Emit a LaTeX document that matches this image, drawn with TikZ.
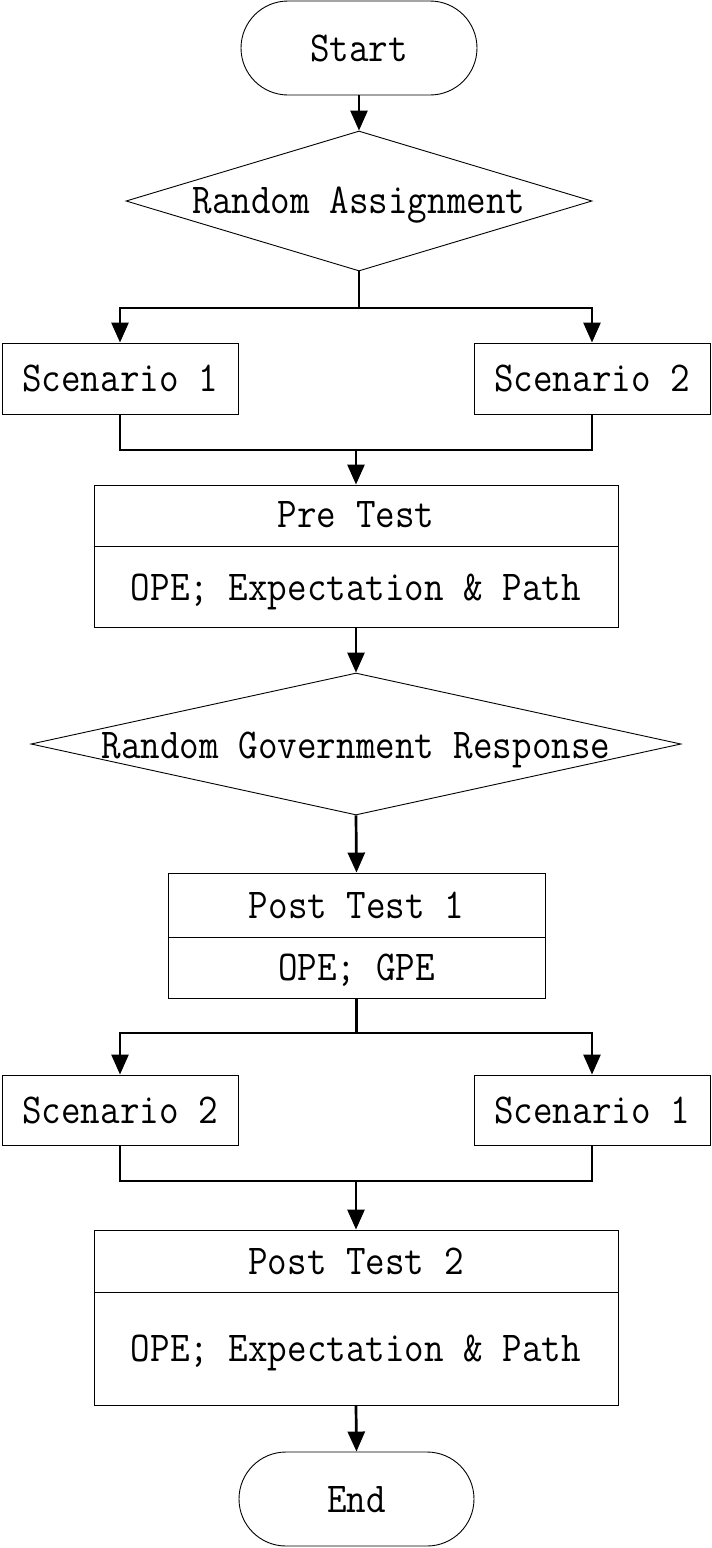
\documentclass[tikz,border=0pt]{standalone}
\usepackage{graphicx}
\usetikzlibrary{shapes.geometric,shapes.misc,arrows.meta}
\newcommand{\tallt}[1]{\scalebox{1}[1.12]{#1}}
\begin{document}
\begin{tikzpicture}[x=1pt,y=-1pt,
 lbl/.style={font=\ttfamily\fontsize{38}{40}\selectfont,inner sep=0pt,text height=26pt,text depth=0pt},
 box/.style={draw,line width=0.9pt,rectangle,inner sep=0pt,lbl},
 term/.style={draw,line width=0.9pt,rounded rectangle,inner sep=0pt,lbl},
 dec/.style={draw,line width=0.9pt,diamond,inner sep=0pt},
 divider/.style={line width=0.9pt},
 conn/.style={line width=2.7pt,-{Triangle[length=20pt,width=17pt]}},
 wire/.style={line width=2.7pt}]
\fill[white] (0,0) rectangle (712,1548);
\useasboundingbox (0,0) rectangle (712,1548);

% nodes
\node[term,minimum width=236,minimum height=94] (start) at (359,48) {\tallt{Start}};
\node[dec,minimum width=466,minimum height=140] (d1) at (359,201) {};
\node[lbl] (d1t) at (359,200) {\tallt{Random Assignment}};
\node[box,minimum width=236,minimum height=71] (s1) at (120,378.5) {\tallt{Scenario 1}};
\node[box,minimum width=236,minimum height=71] (s2) at (592,378.5) {\tallt{Scenario 2}};

\node[box,minimum width=524,minimum height=142] (pre) at (356,556) {};
\draw[divider] (pre.west |- 0,546) -- (pre.east |- 0,546);
\node[lbl] (pret) at (356,514) {\tallt{Pre Test}};
\node[lbl] (preb) at (356,587) {\tallt{OPE; Expectation \& Path}};

\node[dec,minimum width=650,minimum height=142] (d2) at (356,744) {};
\node[lbl] (d2t) at (356,745) {\tallt{Random Government Response}};

\node[box,minimum width=377,minimum height=125] (p1) at (356.5,935.5) {};
\draw[divider] (p1.west |- 0,937) -- (p1.east |- 0,937);
\node[lbl] (p1t) at (356.5,905) {\tallt{Post Test 1}};
\node[lbl] (p1b) at (356.5,967) {\tallt{OPE; GPE}};

\node[box,minimum width=236,minimum height=70] (s3) at (120,1110) {\tallt{Scenario 2}};
\node[box,minimum width=236,minimum height=70] (s4) at (592,1110) {\tallt{Scenario 1}};

\node[box,minimum width=524,minimum height=175] (p2) at (356,1317.5) {};
\draw[divider] (p2.west |- 0,1292) -- (p2.east |- 0,1292);
\node[lbl] (p2t) at (356,1261) {\tallt{Post Test 2}};
\node[lbl] (p2b) at (356,1348) {\tallt{OPE; Expectation \& Path}};

\node[term,minimum width=235,minimum height=94] (end) at (356.5,1499) {\tallt{End}};

% connectors
\coordinate (j1) at (d1.south |- 0,308);
\coordinate (m1) at (pre.north |- 0,450);
\coordinate (j2) at (p1.south |- 0,1033);
\coordinate (m2) at (p2.north |- 0,1181);

\draw[conn] (start.south) -- (d1.north);
\draw[wire] (d1.south) -- (j1);
\draw[conn] (j1) -| (s1.north);
\draw[conn] (j1) -| (s2.north);
\draw[wire] (s1.south) |- (m1);
\draw[wire] (s2.south) |- (m1);
\draw[conn] (m1) -- (pre.north);
\draw[conn] (pre.south) -- (d2.north);
\draw[conn] (d2.south) -- (p1.north);
\draw[wire] (p1.south) -- (j2);
\draw[conn] (j2) -| (s3.north);
\draw[conn] (j2) -| (s4.north);
\draw[wire] (s3.south) |- (m2);
\draw[wire] (s4.south) |- (m2);
\draw[conn] (m2) -- (p2.north);
\draw[conn] (p2.south) -- (end.north);
\end{tikzpicture}
\end{document}
